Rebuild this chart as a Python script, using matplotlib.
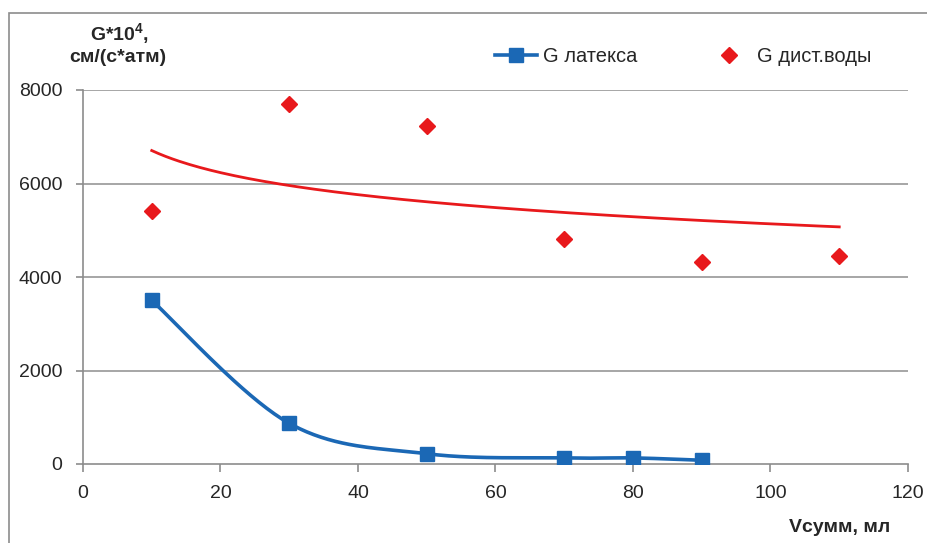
import numpy as np
import matplotlib
matplotlib.use("Agg")
import matplotlib.pyplot as plt
from matplotlib.lines import Line2D
from matplotlib.patches import Rectangle

# ---- data ----
x_latex = [10, 30, 50, 70, 80, 90]
g_latex = [3500, 870, 220, 130, 130, 80]
x_water = [10, 30, 50, 70, 90, 110]
g_water = [5410, 7690, 7240, 4810, 4330, 4450]
x_ticks = [0, 20, 40, 60, 80, 100, 120]
y_ticks = [0, 2000, 4000, 6000, 8000]
label_latex = "G латекса"
label_water = "G дист.воды"
ylabel_1 = r"G*10$^{\mathbf{4}}$,"
ylabel_2 = "см/(с*атм)"
xlabel = "Vсумм, мл"

plt.rcParams['font.family'] = ['Liberation Sans', 'DejaVu Sans']
plt.rcParams['mathtext.fontset'] = 'custom'
plt.rcParams['mathtext.rm'] = 'Liberation Sans'
plt.rcParams['mathtext.bf'] = 'Liberation Sans:bold'

BLUE = '#1b68b5'
RED = '#e8191c'
GRID = '#a6a6a6'
TXT = '#262626'


def excel_smooth(xs, ys, n=40):
    """Excel-style smoothed line: cubic Bezier with Catmull-Rom control points."""
    P = np.column_stack([xs, ys]).astype(float)
    out = []
    m = len(P)
    for i in range(m - 1):
        p0 = P[i - 1] if i > 0 else P[i]
        p1 = P[i]
        p2 = P[i + 1]
        p3 = P[i + 2] if i + 2 < m else P[i + 1]
        c1 = p1 + (p2 - p0) / 6.0
        c2 = p2 - (p3 - p1) / 6.0
        t = np.linspace(0, 1, n)[:, None]
        seg = ((1 - t) ** 3) * p1 + 3 * ((1 - t) ** 2) * t * c1 + 3 * (1 - t) * t ** 2 * c2 + t ** 3 * p2
        out.append(seg if i == 0 else seg[1:])
    s = np.vstack(out)
    return s[:, 0], s[:, 1]


fig = plt.figure(figsize=(9.28, 5.43), dpi=100)
fig.patches.append(Rectangle((9 / 928, -0.1), 1.2, 1 - 13 / 543 + 0.1,
                             transform=fig.transFigure, fill=False,
                             edgecolor='#8c8c8c', linewidth=1.2))

ax = fig.add_axes([83 / 928, 1 - 464 / 543, 825 / 928, 374 / 543])
ax.set_xlim(0, 120)
ax.set_ylim(0, 8000)

# grid
for yv in y_ticks[1:]:
    ax.axhline(yv, color=GRID, linewidth=1.4, zorder=1)

# logarithmic trend line for water
b, a = np.polyfit(np.log(x_water), g_water, 1)
xt = np.linspace(min(x_water), max(x_water), 200)
ax.plot(xt, a + b * np.log(xt), color=RED, linewidth=2.0, zorder=2)

# latex smoothed line
sx, sy = excel_smooth(x_latex, g_latex)
ax.plot(sx, sy, color=BLUE, linewidth=2.6, zorder=3)
ax.plot(x_latex, g_latex, linestyle='none', marker='s', markersize=10,
        color=BLUE, zorder=4)

# water points
ax.plot(x_water, g_water, linestyle='none', marker='D', markersize=8.5,
        color=RED, zorder=4)

# axes styling
for s in ['top', 'right']:
    ax.spines[s].set_visible(False)
for s in ['left', 'bottom']:
    ax.spines[s].set_color('#8c8c8c')
    ax.spines[s].set_linewidth(1.2)
ax.set_xticks(x_ticks)
ax.set_yticks(y_ticks)
ax.tick_params(axis='y', length=5, width=1.2, color='#8c8c8c', pad=10,
               labelsize=14, labelcolor=TXT)
ax.tick_params(axis='x', length=6, width=1.2, color='#8c8c8c', pad=9,
               labelsize=14, labelcolor=TXT)

# axis titles
fig.text(119 / 928, 1 - 34 / 543, ylabel_1, ha='center', va='center',
         fontsize=14, fontweight='bold', color=TXT)
fig.text(118 / 928, 1 - 58 / 543, ylabel_2, ha='center', va='center',
         fontsize=14, fontweight='bold', color=TXT)
fig.text(840 / 928, 1 - 527 / 543, xlabel, ha='center', va='center',
         fontsize=14, fontweight='bold', color=TXT)

# legend
h1 = Line2D([], [], color=BLUE, linewidth=2.6, marker='s', markersize=10)
h2 = Line2D([], [], color=RED, linestyle='none', marker='D', markersize=8.5)
leg = fig.legend([h1, h2], [label_latex, label_water], ncol=2, frameon=False,
                 loc='center left', bbox_to_anchor=(495 / 928, 1 - 57 / 543),
                 fontsize=14.5, handlelength=2.1, handletextpad=0.3,
                 columnspacing=3.5, borderaxespad=0, borderpad=0)
for t in leg.get_texts():
    t.set_color(TXT)

fig.savefig('out.png', dpi=100)
